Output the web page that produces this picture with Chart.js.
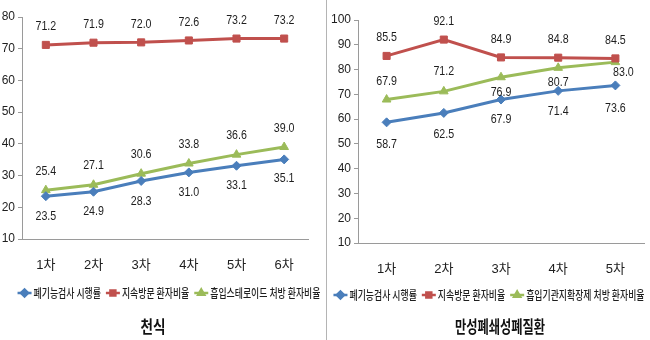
<!DOCTYPE html>
<html>
<head>
<meta charset="utf-8">
<script src="https://cdn.jsdelivr.net/npm/chart.js@4.4.1/dist/chart.umd.min.js"></script>
<style>
  body { margin: 0; background: #fff; width: 650px; height: 340px; overflow: hidden; position: relative; }
  #chartAsthma { position: absolute; left: 0; top: 0; }
  #chartCopd { position: absolute; left: 327px; top: 0; }
  #divider { position: absolute; left: 326px; top: 0; width: 1px; height: 340px; background: #b4b4b4; }
</style>
</head>
<body>
<canvas id="chartAsthma" width="326" height="340"></canvas>
<div id="divider"></div>
<canvas id="chartCopd" width="323" height="340"></canvas>
<script>
// 천식
const asthmaRounds = ['1차', '2차', '3차', '4차', '5차', '6차'];
const asthmaSpirometry = [23.5, 24.9, 28.3, 31.0, 33.1, 35.1];
const asthmaVisits = [71.2, 71.9, 72.0, 72.6, 73.2, 73.2];
const asthmaSteroid = [25.4, 27.1, 30.6, 33.8, 36.6, 39.0];
const asthmaYTicks = [10, 20, 30, 40, 50, 60, 70, 80];

// 만성폐쇄성폐질환
const copdRounds = ['1차', '2차', '3차', '4차', '5차'];
const copdSpirometry = [58.7, 62.5, 67.9, 71.4, 73.6];
const copdVisits = [85.5, 92.1, 84.9, 84.8, 84.5];
const copdBronchodilator = [67.9, 71.2, 76.9, 80.7, 83.0];
const copdYTicks = [10, 20, 30, 40, 50, 60, 70, 80, 90, 100];

const BLUE = '#4a7ebb';
const RED = '#c0504d';
const GREEN = '#9bbb59';
const NUM_FONT = '"Liberation Sans Narrow", "Liberation Sans", sans-serif';
const KR_FONT = '"Noto Sans CJK KR", sans-serif';

// value labels next to each point (drawn a bit narrow, like the source)
const valueLabels = {
  id: 'valueLabels',
  afterDatasetsDraw(chart) {
    const ctx = chart.ctx;
    ctx.save();
    ctx.font = '13px ' + NUM_FONT;
    ctx.fillStyle = '#1e1e1e';
    ctx.textAlign = 'center';
    ctx.textBaseline = 'middle';
    chart.data.datasets.forEach((ds, i) => {
      chart.getDatasetMeta(i).data.forEach((pt, j) => {
        const dx = ds.labelDx ? ds.labelDx[j] : 0;
        ctx.save();
        ctx.translate(pt.x + dx, pt.y + ds.labelDy[j]);
        ctx.scale(0.82, 1);
        ctx.fillText(ds.data[j].toFixed(1), 0, 0);
        ctx.restore();
      });
    });
    ctx.restore();
  }
};

// legend (line + marker) and title under the axis
const bottomText = {
  id: 'bottomText',
  afterDraw(chart, args, opts) {
    const ctx = chart.ctx;
    const sx = opts.squeeze;
    ctx.save();
    ctx.font = '500 12px ' + KR_FONT;
    ctx.textBaseline = 'middle';
    ctx.textAlign = 'left';
    const items = chart.data.datasets.map(ds => ({ ds, w: ctx.measureText(ds.label).width * sx }));
    const lineW = 14, gap = 2, spacing = 5;
    const total = items.reduce((s, it) => s + lineW + gap + it.w, 0) + spacing * (items.length - 1);
    let x = opts.legendX - total / 2;
    const y = opts.legendY;
    items.forEach(it => {
      ctx.strokeStyle = it.ds.borderColor;
      ctx.fillStyle = it.ds.borderColor;
      ctx.lineWidth = 2.5;
      ctx.beginPath();
      ctx.moveTo(x, y);
      ctx.lineTo(x + lineW, y);
      ctx.stroke();
      Chart.helpers.drawPoint(ctx, { pointStyle: it.ds.pointStyle, radius: 3.5, borderWidth: 1, rotation: 0 }, x + lineW / 2, y);
      ctx.fillStyle = '#1e1e1e';
      ctx.save();
      ctx.translate(x + lineW + gap, y + 0.5);
      ctx.scale(sx, 1);
      ctx.fillText(it.ds.label, 0, 0);
      ctx.restore();
      x += lineW + gap + it.w + spacing;
    });

    ctx.font = 'bold 17px ' + KR_FONT;
    ctx.fillStyle = '#111';
    ctx.textAlign = 'center';
    ctx.save();
    ctx.translate(opts.titleX, opts.titleY);
    ctx.scale(opts.titleSqueeze, 1);
    ctx.fillText(opts.title, 0, 0);
    ctx.restore();
    ctx.restore();
  }
};

function lineSet(label, data, color, style, radius, dy, dx) {
  return {
    label: label,
    data: data,
    borderColor: color,
    backgroundColor: color,
    pointBackgroundColor: color,
    pointBorderColor: color,
    borderWidth: 3,
    pointStyle: style,
    pointRadius: radius,
    pointBorderWidth: 1,
    tension: 0,
    labelDy: dy,
    labelDx: dx
  };
}

function makeOptions(yTicks, pad, axisW, legend) {
  return {
    responsive: false,
    animation: false,
    layout: { padding: pad },
    plugins: {
      legend: { display: false },
      tooltip: { enabled: false },
      bottomText: legend
    },
    scales: {
      x: {
        offset: true,
        grid: { display: false, drawTicks: false },
        border: { display: true, color: '#9a9a9a', width: 1 },
        ticks: { color: '#1e1e1e', padding: 19, font: { size: 13, family: NUM_FONT + ', ' + KR_FONT } },
        afterFit(scale) { scale.height = 33; }
      },
      y: {
        min: yTicks[0],
        max: yTicks[yTicks.length - 1],
        afterBuildTicks(scale) { scale.ticks = yTicks.map(v => ({ value: v })); },
        grid: { display: true, drawOnChartArea: false, drawTicks: true, tickLength: 4, color: '#9a9a9a' },
        border: { display: true, color: '#9a9a9a', width: 1 },
        ticks: { color: '#1e1e1e', padding: 3, font: { size: 12, family: NUM_FONT } },
        afterFit(scale) { scale.width = axisW; }
      }
    }
  };
}

new Chart(document.getElementById('chartAsthma'), {
  type: 'line',
  data: {
    labels: asthmaRounds,
    datasets: [
      lineSet('폐기능검사 시행률', asthmaSpirometry, BLUE, 'rectRot', 4.5, [20, 20, 20, 20, 20, 19]),
      lineSet('지속방문 환자비율', asthmaVisits, RED, 'rect', 5, [-18, -18, -18, -18, -18, -18]),
      lineSet('흡입스테로이드 처방 환자비율', asthmaSteroid, GREEN, 'triangle', 5, [-19, -19, -19, -19, -19, -19])
    ]
  },
  options: makeOptions(asthmaYTicks, { top: 17, right: 18, bottom: 68, left: 0 }, 22,
    { squeeze: 0.74, legendX: 169, legendY: 293, title: '천식', titleX: 153, titleY: 327, titleSqueeze: 0.8 }),
  plugins: [valueLabels, bottomText]
});

new Chart(document.getElementById('chartCopd'), {
  type: 'line',
  data: {
    labels: copdRounds,
    datasets: [
      lineSet('폐기능검사 시행률', copdSpirometry, BLUE, 'rectRot', 4.5, [22, 22, 20, 21, 23]),
      lineSet('지속방문 환자비율', copdVisits, RED, 'rect', 5, [-19, -18, -18, -18, -18]),
      lineSet('흡입기관지확장제 처방 환자비율', copdBronchodilator, GREEN, 'triangle', 5, [-18, -20, 15, 15, 10], [0, 0, 0, 0, 8])
    ]
  },
  options: makeOptions(copdYTicks, { top: 20, right: 3, bottom: 64, left: 0 }, 31,
    { squeeze: 0.74, legendX: 162, legendY: 295, title: '만성폐쇄성폐질환', titleX: 173, titleY: 327, titleSqueeze: 0.72 }),
  plugins: [valueLabels, bottomText]
});
</script>
</body>
</html>
